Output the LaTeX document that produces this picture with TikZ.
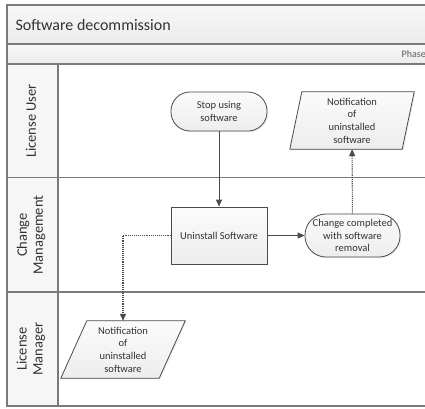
\documentclass[tikz,border=0pt]{standalone}
\usepackage{fontspec}
\setmainfont{Carlito}
\usetikzlibrary{arrows.meta,calc,shadows}

\pgfdeclarelayer{background}
\pgfsetlayers{background,main}

\definecolor{rule}{HTML}{7A7A7A}
\definecolor{edge}{HTML}{4A4A4A}
\definecolor{ink}{HTML}{333333}
\definecolor{shapetop}{HTML}{FBFBFB}
\definecolor{shapebot}{HTML}{EDEDED}
\definecolor{bartop}{HTML}{F8F8F8}
\definecolor{barbot}{HTML}{EBEBEB}
\definecolor{lanehead}{HTML}{F6F6F6}

\tikzset{
  shapestyle/.style={draw=edge, line width=0.8pt, top color=shapetop, bottom color=shapebot,
    drop shadow={shadow xshift=1.2pt, shadow yshift=-1.2pt, opacity=0.15}},
  terminal/.style={shapestyle, rectangle, align=center, font=\fontsize{10.5}{12.7}\selectfont, text=ink},
  process/.style={shapestyle, rectangle, align=center, font=\fontsize{10.5}{12.7}\selectfont, text=ink,
    minimum width=96pt, minimum height=57pt, inner sep=0pt},
  doctext/.style={rectangle, align=center, font=\fontsize{10.5}{12.7}\selectfont, text=ink,
    minimum width=124pt, minimum height=57pt, inner sep=0pt},
  lanelabel/.style={rotate=90, align=center, font=\fontsize{14.5}{16}\selectfont, text=ink},
  flow/.style={draw=edge, line width=1pt, -{Triangle[length=7pt,width=6pt]}},
  dotflow/.style={draw=edge, line width=1.1pt, dash pattern=on 1.1pt off 1pt, -{Triangle[length=7pt,width=6pt]}},
  lanerule/.style={draw=rule, line width=1.2pt},
}

\begin{document}
\begin{tikzpicture}[x=1pt, y=-1pt]
  \useasboundingbox (0,0) rectangle (425,408);
  \clip (0,0) rectangle (425,408);

  % pool header and phase strip
  \shade[top color=bartop, bottom color=barbot] (7,5) rectangle (430,44);
  \shade[top color=bartop, bottom color=barbot] (7,44) rectangle (430,64);
  \fill[lanehead] (7,64) rectangle (58,406);

  % pool frame and lane dividers
  \draw[lanerule] (430,5) -- (7,5) -- (7,406) -- (430,406);
  \draw[lanerule] (7,44) -- (430,44);
  \draw[lanerule] (7,64) -- (430,64);
  \draw[lanerule] (7,177.5) -- (430,177.5);
  \draw[lanerule] (7,292) -- (430,292);
  \draw[lanerule] (58,64) -- (58,406);

  \node[anchor=west, font=\fontsize{16}{18}\selectfont, text=ink] (title) at (12,24.5) {Software decommission};
  \node[anchor=east, font=\fontsize{10}{12}\selectfont, text=ink!80, inner sep=0pt] (phase) at (426,54) {Phase};

  \node[lanelabel] (laneA) at (31,121) {License User};
  \node[lanelabel] (laneB) at (31,235) {Change\\Management};
  \node[lanelabel] (laneC) at (31,349) {License\\Manager};

  % flow elements
  \node[terminal, minimum width=96pt, minimum height=39pt, rounded corners=19pt, inner sep=1pt] (stop) at (219,111.5) {Stop using\\software};
  \node[process] (uninst) at (219,235.5) {Uninstall Software};
  \node[terminal, minimum width=95pt, minimum height=43pt, rounded corners=21pt, inner sep=0pt] (done) at (352.5,235.5) {Change completed\\with software\\removal};

  \node[doctext] (noteA) at (352,120.5) {Notification\\of\\uninstalled\\software};
  \node[doctext] (noteB) at (123,349.5) {Notification\\of\\uninstalled\\software};

  % slanted document outlines behind the two notification texts
  \begin{pgfonlayer}{background}
    \path[shapestyle] ($(noteA.north west)+(12,0)$) -- (noteA.north east) -- ($(noteA.south east)+(-12,0)$) -- (noteA.south west) -- cycle;
    \path[shapestyle] ($(noteB.north west)+(26,0)$) -- (noteB.north east) -- ($(noteB.south east)+(-26,0)$) -- (noteB.south west) -- cycle;
  \end{pgfonlayer}

  % connectors
  \draw[flow] (stop) -- (uninst);
  \draw[flow] (uninst) -- (done);
  \draw[dotflow] (done) -- (noteA);
  \draw[dotflow] (uninst.west) -| (noteB.north);
\end{tikzpicture}
\end{document}
